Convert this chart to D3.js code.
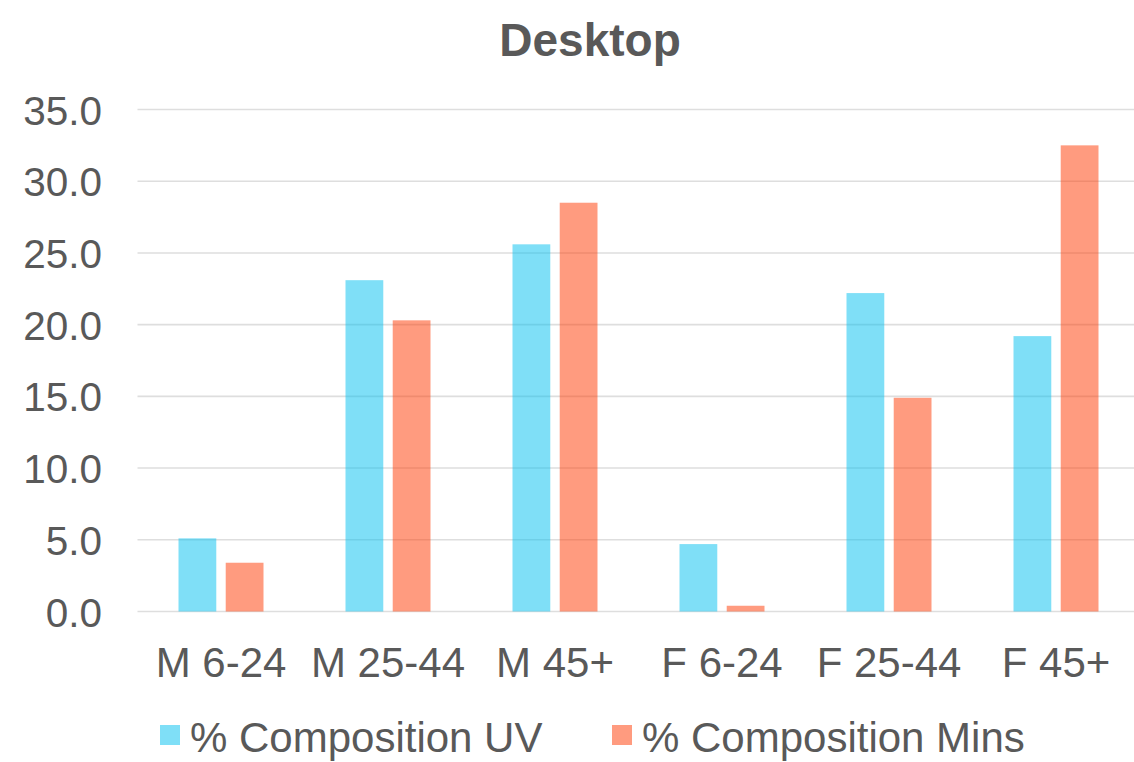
<!DOCTYPE html>
<html>
<head>
<meta charset="utf-8">
<script src="https://cdn.jsdelivr.net/npm/d3@7"></script>
<style>
  html, body { margin: 0; padding: 0; background: #fff; }
  svg { display: block; }
  text { font-family: "Liberation Sans", Arial, Helvetica, sans-serif; fill: #595959; }
</style>
</head>
<body>
<svg id="chart" width="1134" height="762"></svg>
<script>
const title = "Desktop";
const categories = ["M 6-24", "M 25-44", "M 45+", "F 6-24", "F 25-44", "F 45+"];
const seriesNames = ["% Composition UV", "% Composition Mins"];
const uvValues = [5.1, 23.1, 25.6, 4.7, 22.2, 19.2];
const minsValues = [3.4, 20.3, 28.5, 0.4, 14.9, 32.5];
const yTicks = [0, 5, 10, 15, 20, 25, 30, 35];
const seriesColors = ["rgba(0,191,239,0.5)", "rgba(255,56,0,0.5)"];

const svg = d3.select("#chart");
const W = 1134, H = 762;
const plot = { left: 137.5, right: 1139.5, top: 109.5, bottom: 611.5 };

const y = d3.scaleLinear().domain([0, 35]).range([plot.bottom, plot.top]);
const x0 = d3.scaleBand().domain(categories).range([plot.left, plot.right]).paddingInner(0).paddingOuter(0);
const groupW = 85;
const x1 = d3.scaleBand().domain(seriesNames).range([0, groupW]).paddingInner(0.2).paddingOuter(0);

// Gridlines
svg.append("g")
  .attr("class", "grid")
  .selectAll("line")
  .data(yTicks)
  .join("line")
  .attr("x1", plot.left)
  .attr("x2", W)
  .attr("y1", d => y(d))
  .attr("y2", d => y(d))
  .attr("stroke", "#dedede")
  .attr("stroke-width", 1.6);

// Y axis labels
const yAxis = d3.axisLeft(y).tickValues(yTicks).tickFormat(d3.format(".1f")).tickSize(0).tickPadding(0);
const gy = svg.append("g").attr("transform", `translate(102,0)`).call(yAxis);
gy.select(".domain").remove();
gy.selectAll("text")
  .attr("font-size", 40.5)
  .attr("fill", "#595959")
  .attr("font-family", "Liberation Sans, Arial, sans-serif")
  .attr("dy", "0.36em");

// Bars
const data = categories.map((c, i) => ({ cat: c, values: [uvValues[i], minsValues[i]] }));
const groups = svg.append("g").selectAll("g")
  .data(data)
  .join("g")
  .attr("transform", d => `translate(${x0(d.cat) + x0.bandwidth() / 2 - groupW / 2},0)`);

groups.selectAll("rect")
  .data(d => d.values.map((v, j) => ({ name: seriesNames[j], v, j })))
  .join("rect")
  .attr("x", d => x1(d.name))
  .attr("width", x1.bandwidth())
  .attr("y", d => y(d.v))
  .attr("height", d => y(0) - y(d.v))
  .attr("fill", d => seriesColors[d.j]);

// X axis labels
const xAxis = d3.axisBottom(x0).tickSize(0).tickPadding(0);
const gx = svg.append("g").attr("transform", `translate(0,677)`).call(xAxis);
gx.select(".domain").remove();
gx.selectAll("text")
  .attr("font-size", 42)
  .attr("fill", "#595959")
  .attr("font-family", "Liberation Sans, Arial, sans-serif")
  .attr("dy", 0)
  .attr("y", 0);

// Title
svg.append("text")
  .attr("x", 590)
  .attr("y", 56)
  .attr("text-anchor", "middle")
  .attr("font-size", 46)
  .attr("font-weight", "bold")
  .text(title);

// Legend
const legendX = [160, 612];
const legend = svg.append("g").selectAll("g")
  .data(seriesNames)
  .join("g")
  .attr("transform", (d, i) => `translate(${legendX[i]},0)`);
legend.append("rect")
  .attr("x", 0).attr("y", 725).attr("width", 20).attr("height", 20)
  .attr("fill", (d, i) => seriesColors[i]);
legend.append("text")
  .attr("x", 30).attr("y", 752)
  .attr("font-size", 42)
  .text(d => d);
</script>
</body>
</html>
